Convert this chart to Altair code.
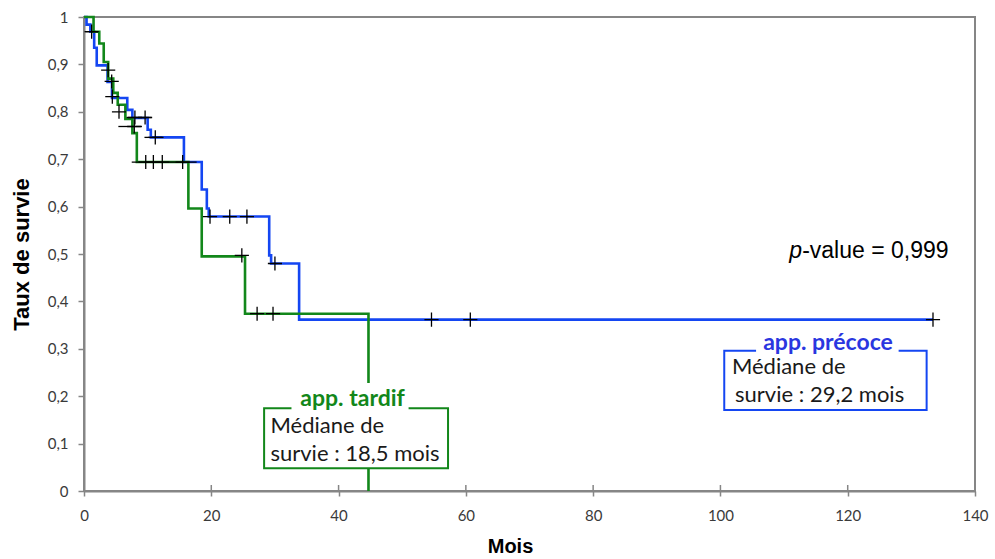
import altair as alt
import pandas as pd

# Kaplan-Meier estimates (months, survival) for the two groups
early_t = [0, 0.4, 1.0, 1.6, 2.0, 3.7, 4.4, 6.8, 7.6, 10.0, 10.5, 15.7, 18.5, 19.3, 19.6, 29.1, 29.4, 33.8, 133.4]
early_s = [1.0, 0.984, 0.969, 0.935, 0.898, 0.863, 0.829, 0.804, 0.787, 0.762, 0.746, 0.694, 0.636, 0.596, 0.579, 0.497, 0.48, 0.3615, 0.3615]

late_t = [0, 1.5, 2.4, 3.1, 3.8, 4.6, 5.3, 6.5, 7.6, 8.3, 16.4, 18.5, 25.3, 44.7]
late_s = [1.0, 0.969, 0.944, 0.905, 0.87, 0.84, 0.815, 0.785, 0.755, 0.694, 0.596, 0.495, 0.374, 0.0]

# censored observations (+)
cens_t = [1.2, 3.8, 4.35, 4.45, 5.5, 8.0, 9.6, 7.9, 11.2, 9.7, 10.9, 12.3, 15.5,
          19.8, 22.9, 25.6, 24.8, 30.0, 27.2, 29.7, 54.6, 60.7, 133.4]
cens_s = [0.969, 0.888, 0.864, 0.832, 0.80, 0.788, 0.788, 0.769, 0.746, 0.694, 0.694, 0.694, 0.694,
          0.579, 0.579, 0.579, 0.497, 0.48, 0.374, 0.374, 0.3615, 0.3615, 0.3615]

# black connecting strokes of the censor series
seg_start = [0.2, 6.7, 5.4, 9.5, 7.5]
seg_end = [2.2, 10.6, 9.1, 12.5, 17.7]
seg_s = [0.969, 0.788, 0.769, 0.746, 0.694]

x_ticks = [0, 20, 40, 60, 80, 100, 120, 140]
y_ticks = [0, 0.1, 0.2, 0.3, 0.4, 0.5, 0.6, 0.7, 0.8, 0.9, 1.0]

groups = ["app. précoce", "app. tardif"]
line_colors = ["#1446f2", "#12871a"]
title_colors = ["#2a36e0", "#12871a"]

W, H = 891, 474
GRAY = "#868686"

x_scale = alt.Scale(domain=[0, 140], nice=False, zero=False)
y_scale = alt.Scale(domain=[0, 1], nice=False, zero=False)

# one axis definition per channel, shared by every layer so they merge cleanly
x_axis = alt.Axis(
    values=x_ticks, title="Mois", grid=False,
    labelFont="Lato", labelFontSize=15, labelColor="#3a3a3a", labelPadding=12,
    labelFlush=False, labelOverlap=False,
    tickSize=5, tickColor=GRAY, tickWidth=1.5,
    domainColor=GRAY, domainWidth=2,
    titleFont="Liberation Sans", titleFontSize=20, titleFontWeight="bold", titleColor="black",
    titleX=426, titleY=61, titleAlign="center", titleBaseline="alphabetic")
y_axis = alt.Axis(
    values=y_ticks, title="Taux de survie", grid=False,
    labelExpr="replace(format(datum.value, '~g'), '.', ',')",
    labelFont="Lato", labelFontSize=15, labelColor="#3a3a3a", labelPadding=10,
    labelFlush=False, labelOverlap=False,
    tickSize=6, tickColor=GRAY, tickWidth=1.5,
    domainColor=GRAY, domainWidth=2,
    titleFont="Liberation Sans", titleFontSize=22, titleFontWeight="bold", titleColor="black",
    titleX=-63, titleY=237, titleAlign="center", titleBaseline="middle")


def X(field):
    return alt.X(field, scale=x_scale, axis=x_axis)


def Y(field):
    return alt.Y(field, scale=y_scale, axis=y_axis)


curves = pd.concat([
    pd.DataFrame({"t": early_t, "s": early_s, "g": groups[0]}),
    pd.DataFrame({"t": late_t, "s": late_s, "g": groups[1]}),
], ignore_index=True)

lines = alt.Chart(curves).mark_line(interpolate="step-after", strokeWidth=2.6).encode(
    x=X("t:Q"), y=Y("s:Q"),
    color=alt.Color("g:N", scale=alt.Scale(domain=groups, range=line_colors), legend=None),
)

# inner half of the x-axis tick marks
inner_ticks = alt.Chart(pd.DataFrame({"v": x_ticks})).mark_rule(color=GRAY, strokeWidth=1.5).encode(
    x=X("v:Q"), y=alt.value(H - 6), y2=alt.value(H),
)

segs = alt.Chart(pd.DataFrame({"a": seg_start, "b": seg_end, "s": seg_s})).mark_rule(
    color="black", strokeWidth=1.3).encode(
    x=X("a:Q"), x2="b:Q", y=Y("s:Q"),
)

crosses = alt.Chart(pd.DataFrame({"t": cens_t, "s": cens_s})).mark_point(
    shape="M-1,0L1,0M0,-1L0,1", size=200, filled=False, color="black",
    strokeWidth=1.3, opacity=1).encode(
    x=X("t:Q"), y=Y("s:Q"),
)

# median annotation boxes
boxes = pd.DataFrame({
    "x0": [100.6, 28.3], "x1": [132.4, 57.2],
    "y0": [0.296, 0.1745], "y1": [0.171, 0.048],
    "c": line_colors,
})
box_rects = alt.Chart(boxes).mark_rect(fill="white", strokeWidth=2).encode(
    x=X("x0:Q"), x2="x1:Q", y=Y("y0:Q"), y2="y1:Q",
    stroke=alt.Stroke("c:N", scale=None),
)

heads = pd.DataFrame({
    "x0": [105.6, 32.6], "x1": [128.0, 51.0],
    "y0": [0.333, 0.228], "y1": [0.290, 0.169],
    "xc": [116.9, 42.2], "yb": [0.2975, 0.1793],
    "label": groups, "c": title_colors,
})
head_bg = alt.Chart(heads).mark_rect(fill="white").encode(
    x=X("x0:Q"), x2="x1:Q", y=Y("y0:Q"), y2="y1:Q",
)
head_text = alt.Chart(heads).mark_text(
    font="Lato", fontSize=23, fontWeight="bold", align="center", baseline="alphabetic").encode(
    x=X("xc:Q"), y=Y("yb:Q"),
    text="label:N",
    color=alt.Color("c:N", scale=None),
)

body = pd.DataFrame({
    "x": [101.8, 102.3, 29.3, 29.3],
    "y": [0.2468, 0.1884, 0.1224, 0.0633],
    "txt": ["Médiane de", "survie : 29,2 mois", "Médiane de", "survie : 18,5 mois"],
})
body_text = alt.Chart(body).mark_text(
    font="Lato", fontSize=22, color="#1a1a1a", align="left", baseline="alphabetic").encode(
    x=X("x:Q"), y=Y("y:Q"),
    text="txt:N",
)

# log-rank result
pv = pd.DataFrame({"x": [110.8], "y": [0.4916]})
p_italic = alt.Chart(pv).mark_text(
    text="p", font="Liberation Sans", fontSize=23, fontStyle="italic", color="black",
    align="left", baseline="alphabetic").encode(x=X("x:Q"), y=Y("y:Q"))
p_rest = alt.Chart(pv).mark_text(
    text="-value = 0,999", font="Liberation Sans", fontSize=23, color="black",
    align="left", baseline="alphabetic", dx=13).encode(x=X("x:Q"), y=Y("y:Q"))

chart = alt.layer(
    lines, inner_ticks, segs, crosses, box_rects, head_bg, head_text, body_text, p_italic, p_rest
).properties(
    width=W, height=H,
    autosize=alt.AutoSizeParams(type="none"),
    padding={"left": 84, "top": 17, "right": 20, "bottom": 68},
    background="white",
).configure_view(stroke=GRAY, strokeWidth=2)

chart.save("out.html", embed_options={"renderer": "svg", "actions": False})
